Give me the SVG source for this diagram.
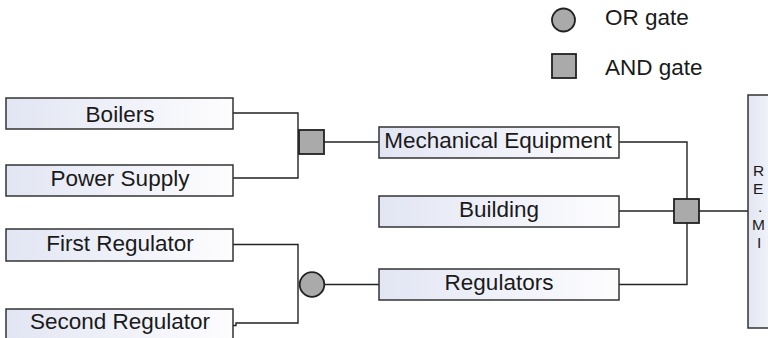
<svg xmlns="http://www.w3.org/2000/svg" width="768" height="338" viewBox="0 0 768 338">
  <defs>
    <linearGradient id="boxFill" x1="0" y1="0" x2="1" y2="0">
      <stop offset="0" stop-color="#e2e5f3"/>
      <stop offset="1" stop-color="#fdfdfe"/>
    </linearGradient>
    <style>
      .box { fill: url(#boxFill); stroke: #333; stroke-width: 1.5; }
      .gate { fill: #aaaaaa; stroke: #222; stroke-width: 1.8; }
      .wire { fill: none; stroke: #222; stroke-width: 1.4; }
      .lbl { font-family: "Liberation Sans", Arial, sans-serif; font-size: 22.5px; fill: #1a1a1a; text-anchor: middle; }
      .leg { font-family: "Liberation Sans", Arial, sans-serif; font-size: 22.5px; fill: #1a1a1a; }
      .big { font-family: "Liberation Sans", Arial, sans-serif; font-size: 15.5px; fill: #1a1a1a; }
    </style>
  </defs>
  <rect width="768" height="338" fill="#ffffff"/>

  <!-- legend -->
  <g id="legend">
    <circle class="gate" cx="563.5" cy="20" r="11.5"/>
    <text class="leg" x="605" y="25">OR gate</text>
    <rect class="gate" x="552" y="54" width="24" height="24"/>
    <text class="leg" x="605" y="75">AND gate</text>
  </g>

  <!-- connectors -->
  <g id="connectors">
    <path class="wire" d="M233,113 H298 V178 H233"/>
    <path class="wire" d="M324,142 H379"/>
    <path class="wire" d="M233,244.5 H298 V323 H236 V325.5 H233"/>
    <path class="wire" d="M324,284.5 H379"/>
    <path class="wire" d="M619,142 H687 V284.5 H619"/>
    <path class="wire" d="M619,211 H748"/>
  </g>

  <!-- basic events -->
  <g id="boilers">
    <rect class="box" x="6" y="98" width="227" height="31"/>
    <text class="lbl" x="120" y="122">Boilers</text>
  </g>
  <g id="power-supply">
    <rect class="box" x="6" y="165" width="227" height="31"/>
    <text class="lbl" x="120" y="186">Power Supply</text>
  </g>
  <g id="first-regulator">
    <rect class="box" x="6" y="229" width="227" height="32"/>
    <text class="lbl" x="120" y="251">First Regulator</text>
  </g>
  <g id="second-regulator">
    <rect class="box" x="6" y="309" width="227" height="33"/>
    <text class="lbl" x="120" y="329">Second Regulator</text>
  </g>

  <!-- gates -->
  <g id="and-gate-1">
    <rect class="gate" x="299" y="130" width="25" height="24"/>
  </g>
  <g id="or-gate">
    <circle class="gate" cx="312" cy="284.5" r="12.3"/>
  </g>

  <!-- intermediate events -->
  <g id="mechanical-equipment">
    <rect class="box" x="379" y="127" width="240" height="31"/>
    <text class="lbl" x="498" y="148">Mechanical Equipment</text>
  </g>
  <g id="building">
    <rect class="box" x="379" y="196" width="240" height="31"/>
    <text class="lbl" x="499" y="217">Building</text>
  </g>
  <g id="regulators">
    <rect class="box" x="379" y="269" width="240" height="31"/>
    <text class="lbl" x="499" y="290">Regulators</text>
  </g>

  <g id="and-gate-2">
    <rect class="gate" x="674" y="199" width="25" height="24"/>
  </g>

  <!-- top event: its label runs past the right edge, only the first letters show -->
  <g id="top-event">
    <rect class="box" x="748" y="95" width="40" height="233"/>
    <text class="big"><tspan x="753" y="176">R</tspan><tspan x="753" y="194">E</tspan><tspan x="758" y="212">.</tspan><tspan x="752" y="230">M</tspan><tspan x="757" y="248">I</tspan></text>
  </g>
</svg>
